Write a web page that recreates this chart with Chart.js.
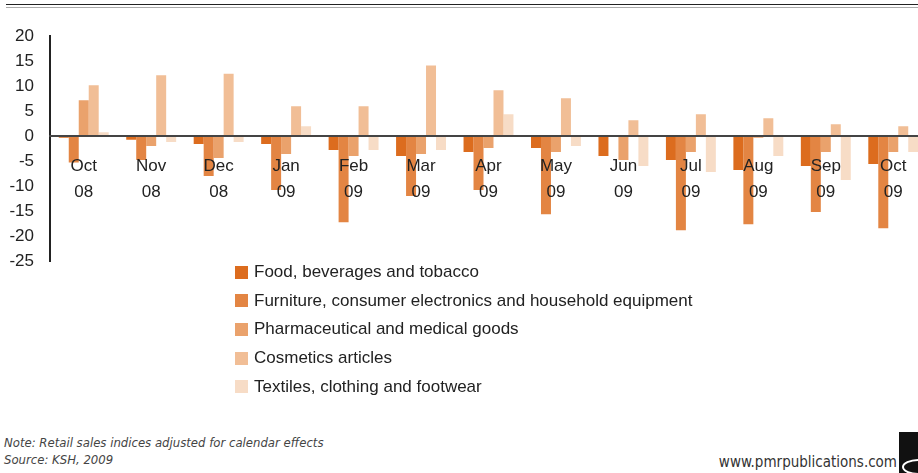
<!DOCTYPE html>
<html>
<head>
<meta charset="utf-8">
<script src="https://cdn.jsdelivr.net/npm/chart.js@4/dist/chart.umd.min.js"></script>
<style>
  html, body { margin: 0; padding: 0; background: #fff; overflow: hidden; }
  body { width: 918px; height: 473px; position: relative; font-family: "Liberation Sans", Arial, sans-serif; }
  .rule-dark { position: absolute; left: 6px; right: 0; top: 4px; height: 1px; background: #222; }
  .rule-light { position: absolute; left: 6px; right: 0; top: 7px; height: 1px; background: #aaa; }
  #chartBox { position: absolute; left: 0; top: 0; width: 930px; height: 288px; }
  #legend { position: absolute; left: 235px; top: 258px; margin: 0; padding: 0; list-style: none; z-index: 2; }
  #legend li { height: 28.6px; display: flex; align-items: center; font-size: 17px; color: #222; white-space: nowrap; }
  #legend .swatch { width: 13px; height: 13px; margin-right: 6px; flex: none; }
  .notes { position: absolute; left: 4px; top: 434px; font-family: "Liberation Sans Narrow", "DejaVu Sans Condensed", sans-serif; font-style: italic; font-size: 13px; line-height: 17px; color: #444; }
  .site { position: absolute; right: 21px; top: 453px; font-family: "Liberation Sans Narrow", "DejaVu Sans Condensed", sans-serif; font-size: 15px; color: #333; }
  .logo { position: absolute; left: 899px; top: 432px; width: 19px; height: 41px; background: #111; overflow: hidden; }
  .logo span { position: absolute; left: 3px; top: 27px; width: 30px; height: 12px; border: 2px solid #fff; border-radius: 50%; }
</style>
</head>
<body>
<div class="rule-dark"></div>
<div class="rule-light"></div>
<div id="chartBox"><canvas id="salesChart"></canvas></div>
<ul id="legend"></ul>
<div class="notes">Note: Retail sales indices adjusted for calendar effects<br>Source: KSH, 2009</div>
<div class="site">www.pmrpublications.com</div>
<div class="logo"><span></span></div>

<script>
// months, two-line tick labels
const months = [
    ['Oct', '08'], ['Nov', '08'], ['Dec', '08'], ['Jan', '09'], ['Feb', '09'], ['Mar', '09'], ['Apr', '09'],
    ['May', '09'], ['Jun', '09'], ['Jul', '09'], ['Aug', '09'], ['Sep', '09'], ['Oct', '09']
];

const seriesNames = [
    'Food, beverages and tobacco',
    'Furniture, consumer electronics and household equipment',
    'Pharmaceutical and medical goods',
    'Cosmetics articles',
    'Textiles, clothing and footwear'
];

// year-on-year change, %
const food = [-0.3, -0.7, -1.5, -1.5, -2.7, -3.9, -3.1, -2.3, -3.9, -4.7, -6.7, -5.9, -5.5];
const furniture = [-5.2, -4.7, -7.9, -10.7, -17.1, -11.9, -10.7, -15.5, 0, -18.7, -17.5, -15.1, -18.3];
const pharma = [7.2, -1.9, -4.3, -3.5, -3.9, -3.5, -2.3, -3.1, -4.7, -3.1, -0.3, -3.1, -3.1];
const cosmetics = [10.2, 12.2, 12.5, 6.0, 6.0, 14.1, 9.2, 7.6, 3.2, 4.4, 3.6, 2.4, 2.0];
const textiles = [0.8, -1.1, -1.1, 2.0, -2.7, -2.7, 4.4, -1.9, -5.9, -7.1, -3.9, -8.7, -3.1];

const yTicks = [20, 15, 10, 5, 0, -5, -10, -15, -20, -25];

const colors = ['#dc6c1e', '#e38543', '#eaa26c', '#f1be96', '#f7dcc6'];

Chart.defaults.font.family = '"Liberation Sans", Arial, sans-serif';
Chart.defaults.color = '#222';

const values = [food, furniture, pharma, cosmetics, textiles];

const salesChart = new Chart(document.getElementById('salesChart'), {
    type: 'bar',
    data: {
        labels: months,
        datasets: values.map((data, i) => ({
            label: seriesNames[i],
            data: data,
            backgroundColor: colors[i],
            borderWidth: 0,
            categoryPercentage: 0.74,
            barPercentage: 1
        }))
    },
    options: {
        responsive: true,
        maintainAspectRatio: false,
        animation: false,
        layout: { padding: { top: 36, bottom: 14, left: 0, right: 3 } },
        plugins: {
            legend: { display: false },
            tooltip: { enabled: false }
        },
        scales: {
            x: {
                position: { y: 0 },
                grid: { display: false, drawTicks: false },
                // zero line and month labels sit above the bars
                border: { color: '#444', width: 2, z: 1 },
                ticks: {
                    z: 1,
                    font: { size: 17, lineHeight: 1.53 },
                    color: '#222',
                    padding: 17,
                    maxRotation: 0,
                    autoSkip: false
                }
            },
            y: {
                min: Math.min(...yTicks),
                max: Math.max(...yTicks),
                grid: { display: false, drawTicks: false },
                border: { color: '#222', width: 2 },
                afterFit: (scale) => { scale.width = 50; },
                afterBuildTicks: (scale) => {
                    scale.ticks = yTicks.slice().reverse().map(v => ({ value: v }));
                },
                ticks: {
                    font: { size: 17 },
                    color: '#222',
                    padding: 16
                }
            }
        }
    }
});

// html legend, one row per series
const legendList = document.getElementById('legend');
salesChart.options.plugins.legend.labels.generateLabels(salesChart).forEach((item) => {
    const li = document.createElement('li');
    const box = document.createElement('span');
    box.className = 'swatch';
    box.style.background = item.fillStyle;
    li.appendChild(box);
    li.appendChild(document.createTextNode(item.text));
    legendList.appendChild(li);
});
</script>
</body>
</html>
